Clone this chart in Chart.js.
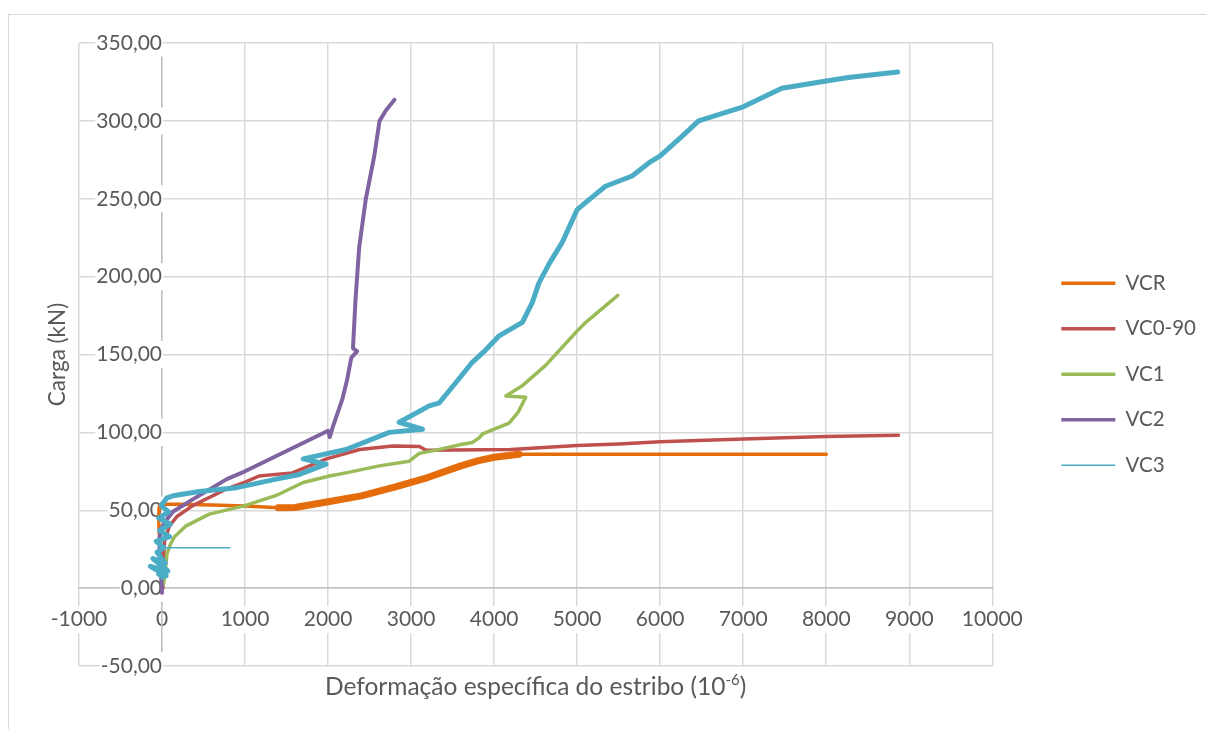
<!DOCTYPE html>
<html>
<head>
<meta charset="utf-8">
<script src="https://cdn.jsdelivr.net/npm/chart.js@4/dist/chart.umd.min.js"></script>
<style>
  body { margin: 0; background: #fff; }
  #wrap { width: 1206px; height: 729px; }
</style>
</head>
<body>
<div id="wrap"><canvas id="chart"></canvas></div>
<script>
'use strict';

// series values (x = strain 10^-6, y = load kN)
const vcrX = [0, -20, -30, -40, -35, -20, 200, 600, 1000, 1400, 1600, 2000, 2400, 2800, 3200, 3600, 3800, 4000, 4300, 8000];
const vcrY = [0, 15, 30, 45, 52, 53.8, 53.8, 53.3, 52.8, 51.6, 51.8, 55.5, 59.2, 64.8, 71, 78.5, 81.7, 84, 86, 86];

const vc090X = [0, 10, 30, 90, 180, 370, 770, 1000, 1170, 1570, 1980, 2380, 2780, 3100, 3180, 4200, 5000, 5500, 6000, 7000, 8000, 8870];
const vc090Y = [0, 12, 30, 40, 46, 53, 63.5, 68, 72, 74, 83, 89, 91.3, 91, 88.5, 89, 91.5, 92.5, 94, 95.8, 97.3, 98.2];

const vc1X = [20, 40, 60, 100, 150, 290, 570, 990, 1375, 1700, 2016, 2216, 2617, 2978, 3098, 3338, 3580, 3737, 3820, 3860, 4180, 4220, 4290, 4380, 4140, 4340, 4620, 4980, 5100, 5490];
const vc1Y = [3, 12, 22, 28, 33, 40, 47.5, 52.8, 59.5, 67.8, 72, 74, 78.5, 81.5, 86.5, 89, 92, 93.5, 96.5, 99, 106, 108.5, 113, 122.5, 123.4, 130, 143, 164, 170.5, 188];

const vc2X = [0, -10, -25, -30, -10, 40, 130, 370, 780, 1000, 1500, 2000, 2020, 2060, 2170, 2230, 2280, 2350, 2300, 2330, 2375, 2455, 2555, 2620, 2700, 2800];
const vc2Y = [-3, 8, 20, 32, 38, 43, 49, 57, 70, 75, 88, 101, 97, 104, 121, 134, 148, 152, 154, 185, 219, 250, 277, 300, 307, 313.5];

const vc3X = [10, -40, 50, -140, 70, -110, 40, -60, 20, 815, 20, -70, 90, -30, 100, -40, 80, -10, 60, 150, 450, 900, 1375, 1655, 1976, 1700, 2216, 2737, 3137, 2857, 3218, 3340, 3540, 3737, 3900, 4060, 4340, 4460, 4540, 4660, 4820, 5000, 5100, 5341, 5662, 5862, 6000, 6262, 6463, 7000, 7465, 8000, 8266, 8860];
const vc3Y = [7, 9, 8, 14, 11, 19, 16, 23, 26, 26, 26, 30, 33, 37, 41, 45, 49, 53, 58, 59.5, 62, 64.5, 70, 73, 79.6, 83, 89, 100, 102, 106.5, 117, 119, 132, 145, 153, 162, 170.6, 183.5, 196, 208, 222, 243, 247.5, 258, 264.6, 273, 277.5, 290, 300, 309, 321, 325.6, 327.8, 331.4];

const seriesNames = ['VCR', 'VC0-90', 'VC1', 'VC2', 'VC3'];
const seriesColors = ['#E46C0A', '#C0504D', '#9BBB59', '#8064A2', '#4BACC6'];
const xTicks = { min: -1000, max: 10000, step: 1000 };
const yTicks = { min: -50, max: 350, step: 50 };

const xTitle = 'Deformação específica do estribo (10';
const xTitleSup = '-6';
const yTitle = 'Carga (kN)';

const TXT = '#595959';
const GRID = '#D9D9D9';

function pts(xs, ys) {
  return xs.map((x, i) => ({ x: x, y: ys[i] }));
}

function series(i, xs, ys, width, legendWidth, extra) {
  return Object.assign({
    label: seriesNames[i],
    data: pts(xs, ys),
    borderColor: seriesColors[i],
    backgroundColor: seriesColors[i],
    borderWidth: width,
    borderJoinStyle: 'round',
    borderCapStyle: 'round',
    showLine: true,
    pointRadius: 0,
    pointHoverRadius: 0,
    pointStyle: 'line',
    pointBorderColor: seriesColors[i],
    pointBackgroundColor: seriesColors[i],
    pointBorderWidth: legendWidth,
    order: 4 - i
  }, extra || {});
}

const frameAndTitles = {
  id: 'frameAndTitles',
  beforeDraw(chart) {
    const ctx = chart.ctx;
    ctx.save();
    ctx.fillStyle = '#fff';
    ctx.fillRect(0, 0, chart.width, chart.height);
    ctx.strokeStyle = GRID;
    ctx.lineWidth = 1;
    ctx.strokeRect(8.5, 14.5, 1400, 1000);
    ctx.restore();
  },
  afterDraw(chart) {
    const ctx = chart.ctx;
    const a = chart.chartArea;
    ctx.save();
    ctx.fillStyle = TXT;
    ctx.font = '22.5px Lato';
    ctx.textBaseline = 'alphabetic';

    // y title, rotated
    ctx.save();
    ctx.translate(65, (a.top + a.bottom) / 2);
    ctx.rotate(-Math.PI / 2);
    ctx.textAlign = 'center';
    ctx.fillText(yTitle, 0, 0);
    ctx.restore();

    // x title with superscript
    const big = '24.5px Lato';
    const small = '15px Lato';
    ctx.textAlign = 'left';
    ctx.font = big;
    const w1 = ctx.measureText(xTitle).width;
    const w3 = ctx.measureText(')').width;
    ctx.font = small;
    const w2 = ctx.measureText(xTitleSup).width;
    let x = (a.left + a.right) / 2 - (w1 + w2 + w3) / 2;
    const base = 695;
    ctx.font = big;
    ctx.fillText(xTitle, x, base);
    x += w1;
    ctx.font = small;
    ctx.fillText(xTitleSup, x, base - 10);
    x += w2;
    ctx.font = big;
    ctx.fillText(')', x, base);
    ctx.restore();
  }
};

const thin = (ctx) => (ctx.p0.parsed.y === 26 && ctx.p1.parsed.y === 26) ? 1.5 : undefined;
const band = (ctx) => (ctx.p0.parsed.x >= 1400 && ctx.p1.parsed.x <= 4300 && ctx.p1.parsed.x > 1400) ? 7 : undefined;

const datasets = [
  series(0, vcrX, vcrY, 3.5, 3.5, { segment: { borderWidth: band } }),
  series(1, vc090X, vc090Y, 3.5, 3.5),
  series(2, vc1X, vc1Y, 3.5, 3.5),
  series(3, vc2X, vc2Y, 4, 3.5),
  series(4, vc3X, vc3Y, 5, 1.5, { segment: { borderWidth: thin } })
];

const tickFont = { family: 'Lato', size: 21 };

new Chart(document.getElementById('chart').getContext('2d'), {
  type: 'scatter',
  data: { datasets: datasets },
  options: {
    responsive: true,
    maintainAspectRatio: false,
    animation: false,
    events: [],
    layout: { padding: { left: 79, top: 43, bottom: 63, right: 0 } },
    scales: {
      x: {
        type: 'linear',
        position: { y: 0 },
        min: xTicks.min,
        max: xTicks.max,
        grid: { color: GRID, lineWidth: 1.5, drawTicks: false },
        border: { color: '#BFBFBF', width: 1.5 },
        ticks: {
          stepSize: xTicks.step,
          autoSkip: false,
          maxRotation: 0,
          padding: 19,
          color: TXT,
          font: tickFont,
          showLabelBackdrop: true,
          backdropColor: '#fff',
          backdropPadding: 1,
          callback: (v) => String(v)
        }
      },
      y: {
        type: 'linear',
        position: { x: 0 },
        min: yTicks.min,
        max: yTicks.max,
        grid: { color: GRID, lineWidth: 1.5, drawTicks: false },
        border: { color: '#BFBFBF', width: 1.5 },
        ticks: {
          stepSize: yTicks.step,
          padding: 23,
          color: TXT,
          font: tickFont,
          showLabelBackdrop: true,
          backdropColor: '#fff',
          backdropPadding: 1,
          callback: (v) => v.toFixed(2).replace('.', ',')
        }
      },
      gap: {
        type: 'linear',
        axis: 'y',
        position: 'right',
        display: true,
        grid: { display: false },
        border: { display: false },
        ticks: { display: false },
        afterFit: (s) => { s.width = 44; }
      }
    },
    plugins: {
      legend: {
        position: 'right',
        title: { display: true, text: '', padding: { top: 0, bottom: 25 } },
        labels: {
          color: TXT,
          font: { family: 'Lato', size: 20.5 },
          padding: 25,
          usePointStyle: true,
          pointStyle: 'line',
          pointStyleWidth: 54,
          sort: (a, b) => a.datasetIndex - b.datasetIndex
        }
      },
      tooltip: { enabled: false }
    }
  },
  plugins: [frameAndTitles]
});
</script>
</body>
</html>
